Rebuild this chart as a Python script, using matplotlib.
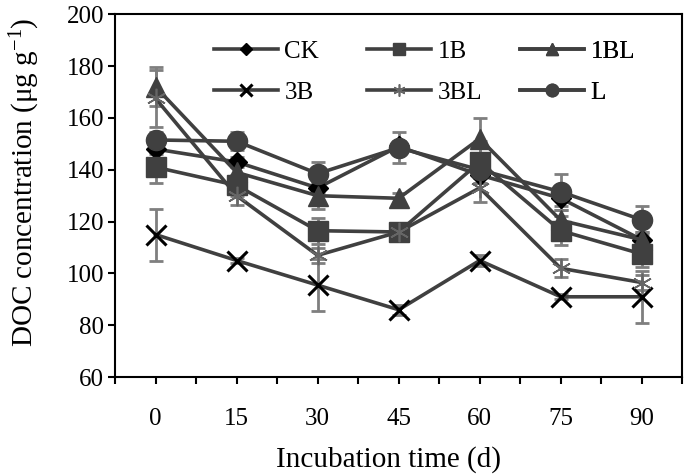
import matplotlib
matplotlib.use("Agg")
import matplotlib.pyplot as plt
import numpy as np

plt.rcParams['font.family'] = ['Liberation Serif', 'DejaVu Serif']
plt.rcParams['mathtext.fontset'] = 'custom'
plt.rcParams['mathtext.rm'] = 'Liberation Serif'
plt.rcParams['mathtext.it'] = 'Liberation Serif:italic'

# incubation days
days = [0, 15, 30, 45, 60, 75, 90]

ck = [148, 143, 133, 149, 138, 129, 113]
ck_err = [2, 2, 2, 2, 3, 3, 3]
b1 = [141, 134, 116.5, 116, 143, 116.5, 107.5]
b1_err = [6, 4, 5, 2, 8, 5.5, 5]
bl1 = [172, 139, 130, 129, 152, 120.5, 113]
bl1_err = [7.5, 3, 5, 2, 8, 4, 3]
b3 = [115, 105, 95.5, 86, 105, 91, 91]
b3_err = [10, 1, 10, 2, 2, 1, 10]
bl3 = [167.5, 130, 107, 116, 133, 102, 96.5]
bl3_err = [11, 3.5, 3, 2, 5.5, 3.5, 3]
l_ = [151.5, 151, 138.5, 148.5, 140, 131.5, 120.7]
l_err = [3, 3.5, 4.5, 6, 3, 7, 5.5]

labels = ['CK', '1B', '1BL', '3B', '3BL', 'L']
series = [ck, b1, bl1, b3, bl3, l_]
errors = [ck_err, b1_err, bl1_err, b3_err, bl3_err, l_err]

line_col = '#404040'
err_col = '#7f7f7f'
# marker, size, face colour, edge colour, edge width
styles = [
    ('D', 10.5, 'black', 'black', 1.0),
    ('s', 14, line_col, line_col, 1.0),
    ('^', 15, line_col, line_col, 1.0),
    ('x', 14, 'black', 'black', 2.2),
    ((6, 2, 0), 14, '#666666', '#666666', 1.2),
    ('o', 14.5, line_col, line_col, 1.0),
]

fig = plt.figure(figsize=(6.85, 4.75), dpi=100)
ax = fig.add_axes([0.168, 0.206, 0.828, 0.764])

handles = {}
for lab, y, e, (m, ms, fc, ec, mew) in zip(labels, series, errors, styles):
    ax.errorbar(days, y, yerr=e, fmt='none', ecolor=err_col, elinewidth=2,
                capsize=4.7, capthick=2, zorder=2)
    h, = ax.plot(days, y, color=line_col, lw=2.6, marker=m, ms=ms,
                 mfc=fc, mec=ec, mew=mew, zorder=3, label=lab)
    handles[lab] = h

ax.set_xlim(-7.5, 97.5)
ax.set_ylim(60, 200)
# labelled ticks at the days, plain ticks half way between them
ax.set_xticks(days)
ax.set_xticklabels([str(d) for d in days])
ax.set_xticks(np.arange(-7.5, 98, 15), minor=True)
ax.tick_params(axis='x', which='both', direction='out', length=5, width=1.5)
ax.tick_params(axis='x', which='major', labelsize=18, pad=17)
ax.set_yticks(np.arange(60, 201, 20))
ax.tick_params(axis='y', direction='out', length=5, width=1.5, labelsize=18, pad=3)
for s in ax.spines.values():
    s.set_linewidth(1.5)

ax.set_xlabel('Incubation time (d)', fontsize=21)
ax.xaxis.set_label_coords(0.4815, -0.19)
ax.set_ylabel('DOC concentration (μg g$^{-1}$)', fontsize=21)
ax.yaxis.set_label_coords(-0.128, 0.537)

# legend: three columns placed one by one, two rows each
columns = [['CK', '3B'], ['1B', '3BL'], ['1BL', 'L']]
col_x = [0.1746, 0.4444, 0.7143]
for names, xa in zip(columns, col_x):
    leg = ax.legend([handles[k] for k in names], names, loc='upper left',
                    bbox_to_anchor=(xa, 0.929), frameon=False, fontsize=18,
                    markerscale=0.62, handlelength=2.56, handletextpad=0.25,
                    labelspacing=0.76, borderpad=0, borderaxespad=0)
    ax.add_artist(leg)

fig.savefig('out.png', dpi=100)
